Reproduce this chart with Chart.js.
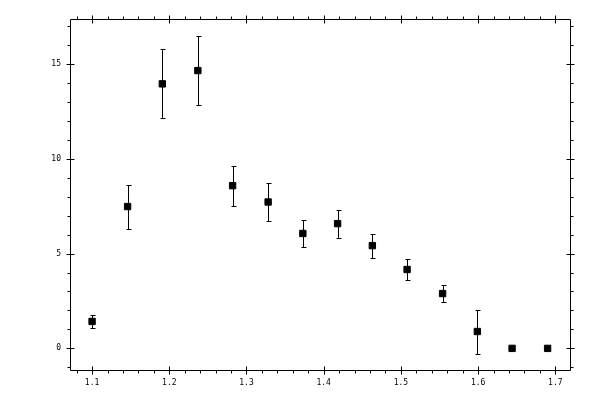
<!DOCTYPE html>
<html>
<head>
  <meta charset="UTF-8">
  <title>Error bar scatter</title>
  <style>
    body { margin: 0; padding: 0; background: #fff; }
    #box { width: 600px; height: 400px; }
  </style>
  <script src="https://cdn.jsdelivr.net/npm/chart.js"></script>
</head>
<body>
  <div id="box"><canvas id="chart" width="600" height="400"></canvas></div>
  <script>
    // data
    const xValues = [1.100, 1.146, 1.191, 1.237, 1.282, 1.328, 1.373, 1.418, 1.463, 1.508, 1.554, 1.599, 1.644, 1.690];
    const yValues = [1.42, 7.48, 13.95, 14.65, 8.58, 7.72, 6.06, 6.58, 5.42, 4.16, 2.89, 0.89, 0, 0];
    const yErrors = [0.32, 1.16, 1.82, 1.83, 1.05, 0.98, 0.70, 0.74, 0.63, 0.53, 0.47, 1.16, 0, 0];

    const xTickLabels = [1.1, 1.2, 1.3, 1.4, 1.5, 1.6, 1.7];
    const yTickLabels = [0, 5, 10, 15];
    const xMinorStep = 0.02;
    const yMinorStep = 1;

    const tickFont = { family: 'DejaVu Sans Mono', size: 8 };

    // frame with ticks on all four sides (major ones cross the frame, minor ones stick out)
    const frameTicks = {
      id: 'frameTicks',
      afterDraw(chart) {
        const ctx = chart.ctx;
        const a = chart.chartArea;
        const xs = chart.scales.x, ys = chart.scales.y;
        const L = Math.round(a.left) + 0.5, R = Math.round(a.right) + 0.5;
        const T = Math.round(a.top) + 0.5, B = Math.round(a.bottom) + 0.5;
        ctx.save();
        ctx.strokeStyle = '#000';
        ctx.lineWidth = 1;
        ctx.beginPath();
        ctx.rect(L, T, R - L, B - T);

        const isMajor = (v, list) => list.some(m => Math.abs(m - v) < 1e-6);

        // x ticks
        for (let i = Math.ceil(xs.min / xMinorStep); i * xMinorStep <= xs.max + 1e-9; i++) {
          const v = +(i * xMinorStep).toFixed(4);
          const px = Math.round(xs.getPixelForValue(v)) + 0.5;
          if (isMajor(v, xTickLabels)) {
            ctx.moveTo(px, B - 4); ctx.lineTo(px, B + 4);
            ctx.moveTo(px, T - 4); ctx.lineTo(px, T + 4);
          } else {
            ctx.moveTo(px, B); ctx.lineTo(px, B + 3);
            ctx.moveTo(px, T); ctx.lineTo(px, T - 3);
          }
        }
        // y ticks
        for (let i = Math.ceil(ys.min / yMinorStep); i * yMinorStep <= ys.max + 1e-9; i++) {
          const v = i * yMinorStep;
          const py = Math.round(ys.getPixelForValue(v)) + 0.5;
          if (isMajor(v, yTickLabels)) {
            ctx.moveTo(L - 4, py); ctx.lineTo(L + 4, py);
            ctx.moveTo(R - 4, py); ctx.lineTo(R + 4, py);
          } else {
            ctx.moveTo(L, py); ctx.lineTo(L - 3, py);
            ctx.moveTo(R, py); ctx.lineTo(R + 3, py);
          }
        }
        ctx.stroke();
        ctx.restore();
      }
    };

    // vertical error bars with small caps
    const errorBars = {
      id: 'errorBars',
      beforeDatasetsDraw(chart) {
        const ctx = chart.ctx;
        const xs = chart.scales.x, ys = chart.scales.y;
        ctx.save();
        ctx.strokeStyle = '#000';
        ctx.lineWidth = 1;
        ctx.beginPath();
        xValues.forEach((x, i) => {
          const e = yErrors[i];
          if (!e) return;
          const px = Math.round(xs.getPixelForValue(x)) + 0.5;
          const top = Math.round(ys.getPixelForValue(yValues[i] + e)) + 0.5;
          const bot = Math.round(ys.getPixelForValue(yValues[i] - e)) + 0.5;
          ctx.moveTo(px, top); ctx.lineTo(px, bot);
          ctx.moveTo(px - 2, top); ctx.lineTo(px + 3, top);
          ctx.moveTo(px - 2, bot); ctx.lineTo(px + 3, bot);
        });
        ctx.stroke();
        ctx.restore();
      }
    };

    new Chart(document.getElementById('chart'), {
      type: 'scatter',
      data: {
        datasets: [{
          data: xValues.map((x, i) => ({ x: x, y: yValues[i] })),
          pointStyle: 'rect',
          pointRadius: 4.5,
          pointBackgroundColor: '#000',
          pointBorderColor: '#000',
          pointBorderWidth: 1
        }]
      },
      options: {
        responsive: false,
        animation: false,
        devicePixelRatio: 1,
        layout: { padding: { left: 0, top: 19, right: 30, bottom: 0 } },
        plugins: { legend: { display: false }, tooltip: { enabled: false } },
        scales: {
          x: {
            type: 'linear',
            min: 1.0714,
            max: 1.719,
            afterBuildTicks: s => { s.ticks = xTickLabels.map(v => ({ value: v })); },
            afterFit: s => { s.height = 30; },
            grid: { display: false, drawTicks: false },
            border: { display: false },
            ticks: {
              color: '#000',
              font: tickFont,
              padding: 8,
              maxRotation: 0,
              callback: v => v.toFixed(1)
            }
          },
          y: {
            type: 'linear',
            min: -1.14,
            max: 17.37,
            afterBuildTicks: s => { s.ticks = yTickLabels.map(v => ({ value: v })); },
            afterFit: s => { s.width = 70; },
            grid: { display: false, drawTicks: false },
            border: { display: false },
            ticks: {
              color: '#000',
              font: tickFont,
              padding: 9,
              callback: v => String(v)
            }
          }
        }
      },
      plugins: [errorBars, frameTicks]
    });
  </script>
</body>
</html>
